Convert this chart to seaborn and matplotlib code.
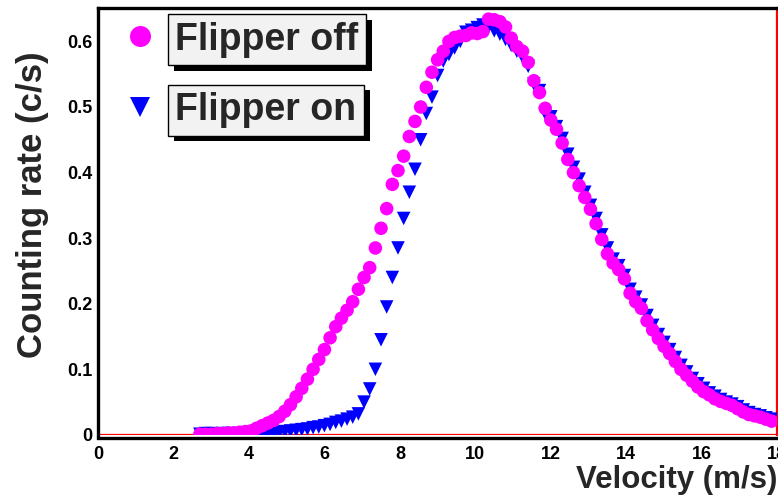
import pandas as pd
import seaborn as sns
import matplotlib.pyplot as plt
import matplotlib.patheffects as pe
from matplotlib.ticker import MultipleLocator

# velocity bins (m/s)
velocity = [2.70, 2.85, 3.00, 3.15, 3.30, 3.45, 3.60, 3.75, 3.90, 4.05,
            4.20, 4.35, 4.50, 4.65, 4.80, 4.95, 5.10, 5.25, 5.40, 5.55,
            5.70, 5.85, 6.00, 6.15, 6.30, 6.45, 6.60, 6.75, 6.90, 7.05,
            7.20, 7.35, 7.50, 7.65, 7.80, 7.95, 8.10, 8.25, 8.40, 8.55,
            8.70, 8.85, 9.00, 9.15, 9.30, 9.45, 9.60, 9.75, 9.90, 10.05,
            10.20, 10.35, 10.50, 10.65, 10.80, 10.95, 11.10, 11.25, 11.40, 11.55,
            11.70, 11.85, 12.00, 12.15, 12.30, 12.45, 12.60, 12.75, 12.90, 13.05,
            13.20, 13.35, 13.50, 13.65, 13.80, 13.95, 14.10, 14.25, 14.40, 14.55,
            14.70, 14.85, 15.00, 15.15, 15.30, 15.45, 15.60, 15.75, 15.90, 16.05,
            16.20, 16.35, 16.50, 16.65, 16.80, 16.95, 17.10, 17.25, 17.40, 17.55,
            17.70, 17.85]

# counting rate, flipper off (c/s)
rate_off = [0.001, 0.001, 0.001, 0.002, 0.002, 0.003, 0.003, 0.004, 0.005, 0.006,
            0.010, 0.014, 0.018, 0.022, 0.028, 0.036, 0.046, 0.058, 0.071, 0.085,
            0.100, 0.115, 0.130, 0.148, 0.165, 0.178, 0.190, 0.203, 0.222, 0.240,
            0.255, 0.285, 0.315, 0.345, 0.382, 0.403, 0.425, 0.455, 0.478, 0.500,
            0.530, 0.553, 0.572, 0.585, 0.600, 0.606, 0.608, 0.609, 0.613, 0.612,
            0.615, 0.634, 0.633, 0.630, 0.622, 0.605, 0.592, 0.585, 0.568, 0.540,
            0.522, 0.498, 0.480, 0.466, 0.445, 0.420, 0.400, 0.380, 0.362, 0.344,
            0.322, 0.298, 0.276, 0.262, 0.252, 0.238, 0.216, 0.203, 0.193, 0.174,
            0.160, 0.147, 0.135, 0.124, 0.112, 0.100, 0.091, 0.082, 0.073, 0.066,
            0.061, 0.055, 0.051, 0.048, 0.045, 0.040, 0.035, 0.031, 0.029, 0.027,
            0.024, 0.021]

# counting rate, flipper on (c/s)
rate_on = [0.001, 0.002, 0.002, 0.001, 0.002, 0.002, 0.001, 0.002, 0.002, 0.001,
           0.001, 0.002, 0.003, 0.002, 0.004, 0.005, 0.006, 0.007, 0.008, 0.009,
           0.011, 0.012, 0.014, 0.016, 0.019, 0.021, 0.024, 0.027, 0.032, 0.050,
           0.070, 0.100, 0.145, 0.195, 0.240, 0.285, 0.330, 0.370, 0.405, 0.450,
           0.490, 0.515, 0.548, 0.570, 0.580, 0.590, 0.600, 0.614, 0.617, 0.621,
           0.625, 0.622, 0.616, 0.611, 0.603, 0.594, 0.585, 0.576, 0.562, 0.535,
           0.525, 0.490, 0.485, 0.470, 0.452, 0.428, 0.408, 0.390, 0.370, 0.350,
           0.330, 0.305, 0.285, 0.268, 0.258, 0.243, 0.222, 0.210, 0.198, 0.182,
           0.167, 0.153, 0.141, 0.130, 0.118, 0.106, 0.096, 0.086, 0.078, 0.071,
           0.064, 0.059, 0.054, 0.050, 0.047, 0.043, 0.038, 0.034, 0.031, 0.029,
           0.026, 0.024]

labels = ['Flipper off', 'Flipper on']
colors = {'Flipper off': '#ff00ff', 'Flipper on': '#0000ff'}
markers = {'Flipper off': 'o', 'Flipper on': 'v'}

# blue first so the magenta circles sit on top
df = pd.concat([
    pd.DataFrame({'velocity': velocity, 'rate': rate_on, 'flipper': 'Flipper on'}),
    pd.DataFrame({'velocity': velocity, 'rate': rate_off, 'flipper': 'Flipper off'}),
], ignore_index=True)

sns.set_style('white')
plt.rcParams['font.family'] = ['Liberation Sans', 'DejaVu Sans']
plt.rcParams['font.weight'] = 'bold'

fig = plt.figure(figsize=(7.78, 4.97), dpi=100)
ax = fig.add_axes([0.126, 0.125, 0.873, 0.859])

sns.scatterplot(data=df, x='velocity', y='rate', hue='flipper', style='flipper',
                hue_order=labels, style_order=labels, palette=colors, markers=markers,
                s=95, linewidth=0, ax=ax, zorder=3)

ax.set_xlim(0, 18)
ax.set_ylim(0, 0.651)
ax.xaxis.set_major_locator(MultipleLocator(2))
ax.xaxis.set_minor_locator(MultipleLocator(0.5))
ax.yaxis.set_major_locator(MultipleLocator(0.1))
ax.yaxis.set_minor_locator(MultipleLocator(0.02))
ax.set_yticks([0, 0.1, 0.2, 0.3, 0.4, 0.5, 0.6])
ax.set_yticklabels(['0', '0.1', '0.2', '0.3', '0.4', '0.5', '0.6'])

ax.tick_params(axis='both', which='both', direction='in', width=1.6, colors='black',
               labelsize=13, top=False, right=False)
ax.tick_params(axis='y', which='major', length=14, pad=4)
ax.tick_params(axis='y', which='minor', length=8)
ax.tick_params(axis='x', which='major', length=9.5, pad=6)
ax.tick_params(axis='x', which='minor', length=4.5)
for lab in ax.get_xticklabels() + ax.get_yticklabels():
    lab.set_fontweight('bold')

for side in ['left', 'top', 'bottom']:
    ax.spines[side].set_color('black')
    ax.spines[side].set_linewidth(2.4)
ax.spines['right'].set_color('red')
ax.spines['right'].set_linewidth(1.6)
ax.spines['bottom'].set_position(('outward', 2))
ax.axhline(0, color='red', lw=1.6, zorder=2)

ax.set_xlabel('Velocity (m/s)', fontsize=22.5, fontweight='bold', loc='right')
ax.xaxis.set_label_coords(1.0, -0.07)
ax.xaxis.label.set_va('top')
ax.set_ylabel('Counting rate (c/s)', fontsize=25, fontweight='bold')
ax.yaxis.set_label_coords(-0.072, 0.54)

# ROOT-like legend: marker + grey box with shadow
sns.move_legend(ax, 'upper left', bbox_to_anchor=(0.034, 0.968), frameon=False,
                title=None, fontsize=27, markerscale=1.55, handlelength=1.0,
                handletextpad=0.45, labelspacing=0.92, borderpad=0, borderaxespad=0)
leg = ax.get_legend()
for t in leg.get_texts():
    t.set_fontweight('bold')
    t.set_bbox(dict(boxstyle='square,pad=0.2', fc='#f2f2f2', ec='black', lw=1))
    t.get_bbox_patch().set_path_effects([
        pe.SimplePatchShadow(offset=(4, -4), shadow_rgbFace='black', alpha=1.0),
        pe.Normal()])

fig.savefig('out.png', dpi=100)
